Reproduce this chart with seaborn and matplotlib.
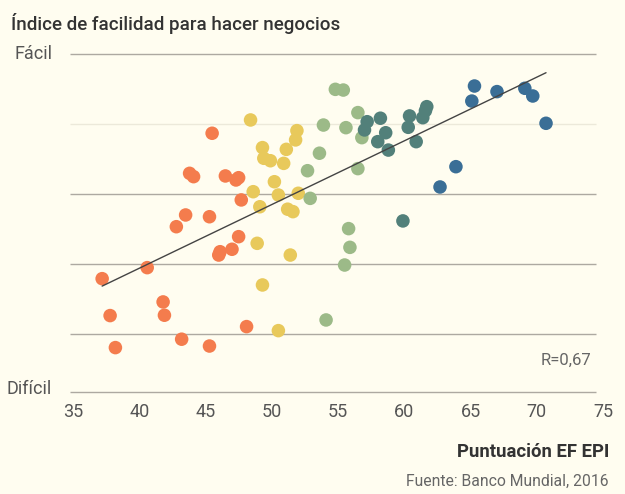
import pandas as pd
import seaborn as sns
import matplotlib.pyplot as plt
import numpy as np

# EF EPI score (x) vs. ease of doing business rank (y, 0 = easiest)
muy_bajo_x = [45.5, 43.8, 44.1, 46.5, 47.3, 47.5, 47.7, 43.5, 45.3, 42.8, 47.5, 46.1,
              46.0, 47.0, 40.6, 37.2, 41.8, 37.8, 41.9, 48.1, 43.2, 45.3, 38.2]
muy_bajo_y = [45.3, 68.2, 70.1, 69.7, 72.0, 70.7, 83.4, 92.0, 93.0, 98.7, 104.4, 113.0,
              114.9, 111.6, 122.1, 128.4, 141.7, 149.5, 149.3, 155.8, 163.0, 166.9, 167.8]

bajo_x = [48.4, 48.6, 48.9, 49.3, 49.3, 49.4, 49.9, 51.1, 50.9, 51.9, 51.8, 50.2,
          50.5, 52.0, 49.1, 51.2, 51.6, 51.4, 50.5]
bajo_y = [37.7, 78.7, 108.2, 132.0, 53.5, 59.6, 61.0, 54.5, 62.5, 43.8, 49.1, 73.0,
          80.6, 79.6, 87.3, 88.7, 90.1, 114.9, 158.1]

moderado_x = [54.8, 55.4, 56.5, 53.9, 55.6, 56.8, 53.6, 52.7, 56.5, 52.9, 55.8, 55.9, 55.5, 54.1]
moderado_y = [20.2, 20.6, 33.5, 40.6, 42.1, 47.8, 56.7, 66.7, 65.5, 82.5, 99.8, 110.5, 120.6, 152.0]

alto_x = [57.2, 58.2, 60.4, 61.7, 61.6, 61.4, 60.3, 57.0, 58.6, 58.0, 60.9, 58.8, 59.9]
alto_y = [38.7, 36.7, 35.4, 30.1, 32.4, 36.4, 41.9, 43.4, 45.0, 50.1, 50.1, 54.9, 95.4]

muy_alto_x = [65.3, 67.0, 65.1, 69.1, 69.7, 70.7, 63.9, 62.7]
muy_alto_y = [18.3, 21.5, 26.9, 19.6, 24.0, 39.6, 64.4, 76.0]

x_ticks = [35, 40, 45, 50, 55, 60, 65, 70, 75]
grid_ranks = [0, 40, 80, 120, 160, 193]

colores = {
    'muy_bajo': '#F47C4D',
    'bajo': '#E8C95B',
    'moderado': '#9CBA88',
    'alto': '#52807A',
    'muy_alto': '#3A6E96',
}

frames = []
for nombre, xs, ys in [('muy_bajo', muy_bajo_x, muy_bajo_y), ('bajo', bajo_x, bajo_y),
                       ('moderado', moderado_x, moderado_y), ('alto', alto_x, alto_y),
                       ('muy_alto', muy_alto_x, muy_alto_y)]:
    frames.append(pd.DataFrame({'epi': xs, 'rank': ys, 'grupo': nombre}))
df = pd.concat(frames, ignore_index=True)

bg = '#FFFDF0'
sns.set_style('white')
plt.rcParams['font.family'] = ['Roboto', 'DejaVu Sans']

fig = plt.figure(figsize=(6.25, 4.94), dpi=100, facecolor=bg)
ax = fig.add_axes([73 / 625, 1 - 391.7 / 494, 530 / 625, (391.7 - 54) / 494])
ax.set_facecolor(bg)

# grid lines
for r in grid_ranks:
    c = '#ECE9DA' if r == 40 else '#ADA9A1'
    ax.hlines(r, 34.77, 74.47, color=c, lw=1, zorder=0, clip_on=False)

sns.scatterplot(data=df, x='epi', y='rank', hue='grupo', palette=colores,
                s=95, linewidth=0, legend=False, ax=ax, zorder=3)
sns.regplot(data=df, x='epi', y='rank', scatter=False, ci=None, ax=ax,
            line_kws={'color': '#444444', 'lw': 1, 'zorder': 4})

ax.set_xlim(35, 75)
ax.set_ylim(193, 0)
ax.set_xticks(x_ticks)
ax.set_yticks([])
ax.tick_params(axis='x', length=0, pad=8, labelsize=13, labelcolor='#555555')
ax.set_xlabel('')
ax.set_ylabel('')
for s in ax.spines.values():
    s.set_visible(False)

ax.text(33.42, 0, 'Fácil', ha='right', va='center', fontsize=13, color='#555555', clip_on=False)
ax.text(33.42, 191.5, 'Difícil', ha='right', va='center', fontsize=13, color='#555555', clip_on=False)
ax.text(74.1, 175, 'R=0,67', ha='right', va='center', fontsize=12, color='#666666')

fig.text(11 / 625, 1 - 23 / 494, 'Índice de facilidad para hacer negocios',
         ha='left', va='center', fontsize=13.5, fontweight='medium', color='#333333')
fig.text(609 / 625, 1 - 452 / 494, 'Puntuación EF EPI', ha='right', va='center',
         fontsize=13.3, fontweight='bold', color='#333333')
fig.text(609 / 625, 1 - 481 / 494, 'Fuente: Banco Mundial, 2016', ha='right', va='center',
         fontsize=11.3, color='#666666')

fig.savefig('out.png', dpi=100, facecolor=bg)
